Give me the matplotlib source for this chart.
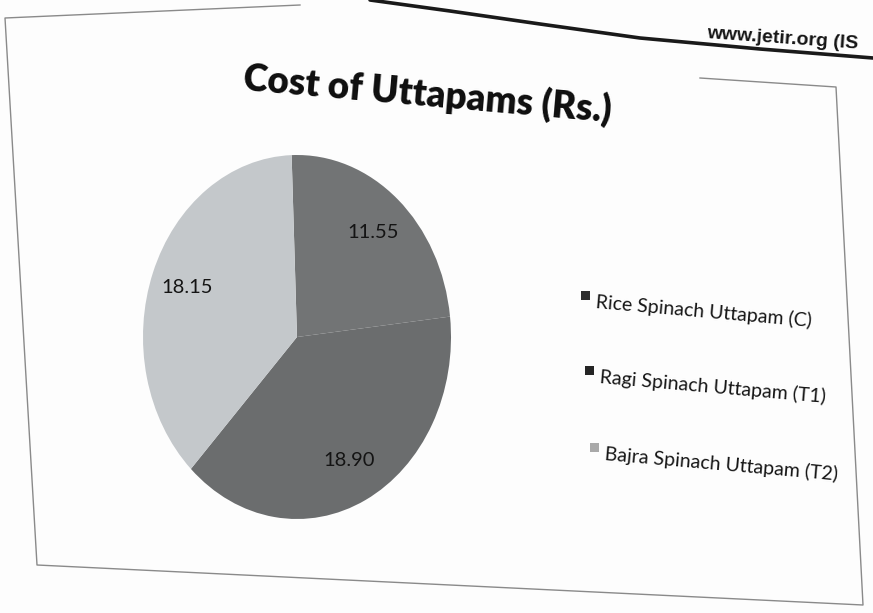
import matplotlib
matplotlib.use("Agg")
import matplotlib.pyplot as plt
from matplotlib.lines import Line2D
from matplotlib.patches import Rectangle

# Data
categories = ["Rice Spinach Uttapam (C)", "Ragi Spinach Uttapam (T1)", "Bajra Spinach Uttapam (T2)"]
costs = [11.55, 18.90, 18.15]
slice_colors = ["#727475", "#6b6d6e", "#c4c8cb"]
legend_colors = ["#2e2e2e", "#252525", "#a9a9a9"]

W, H = 873, 613
fig = plt.figure(figsize=(W / 100, H / 100), dpi=100, facecolor="#fdfdfd")


def fx(x):
    return x / W


def fy(y):
    return 1 - y / H


# Page edge and slide border
curve_x = [370, 450, 540, 640, 760, 873]
curve_y = [0, 11, 24, 38, 49, 58]
fig.add_artist(Line2D([fx(v) for v in curve_x], [fy(v) for v in curve_y],
                      color="#1a1a1a", lw=2.6, solid_capstyle="round"))
border = [(300, 5), (5, 18), (37, 565), (863, 605), (836, 87), (700, 78)]
fig.add_artist(Line2D([fx(p[0]) for p in border], [fy(p[1]) for p in border],
                      color="#8a8a8a", lw=1.0))

fig.text(fx(706), fy(38), "www.jetir.org (IS", fontsize=14, fontweight="bold",
         family="Liberation Sans", color="#151515", rotation=-4,
         rotation_mode="anchor", ha="left", va="baseline")

# Title
fig.text(fx(428), fy(94), "Cost of Uttapams (Rs.)", fontsize=26.5, fontweight="heavy",
         family="Lato", color="#0e0e0e", rotation=-5, rotation_mode="anchor",
         ha="center", va="center")

# Pie
ax = fig.add_axes([fx(297 - 154), fy(337 + 182), 308 / W, 364 / H])
total = sum(costs)
wedges, texts, autotexts = ax.pie(
    costs, colors=slice_colors, startangle=92, counterclock=False,
    autopct=lambda p: f"{p * total / 100:.2f}", pctdistance=0.76,
    wedgeprops=dict(linewidth=0), textprops=dict(fontsize=14.5, family="Lato", color="#141414"))
ax.set_aspect("auto")
ax.set_xlim(-1, 1)
ax.set_ylim(-1, 1)
ax.axis("off")

# Legend
marker_pos = [(585, 295), (589, 370), (594, 447)]
for name, col, (mx, my) in zip(categories, legend_colors, marker_pos):
    s = 9
    fig.add_artist(Rectangle((fx(mx - s / 2), fy(my + s / 2)), s / W, s / H,
                             facecolor=col, edgecolor="none"))
    fig.text(fx(mx + 11), fy(my + 7), name, fontsize=14, family="Lato",
             color="#151515", rotation=-5, rotation_mode="anchor",
             ha="left", va="center")

fig.savefig("out.png", dpi=100, facecolor=fig.get_facecolor())
